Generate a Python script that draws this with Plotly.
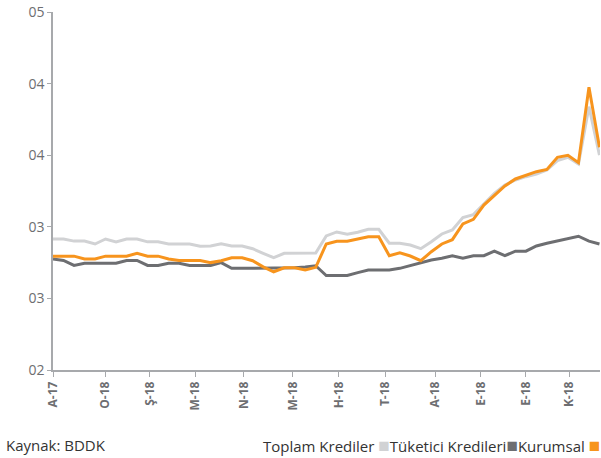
import plotly.graph_objects as go

# --------------------- Data (weekly, Dec 2017 - Dec 2018)
toplam = [2.915, 2.915, 2.90, 2.90, 2.88, 2.915, 2.895, 2.915, 2.915, 2.895,
          2.895, 2.88, 2.88, 2.88, 2.865, 2.866, 2.882, 2.866, 2.866, 2.847,
          2.815, 2.784, 2.815, 2.815, 2.817, 2.817, 2.936, 2.964, 2.948, 2.962,
          2.983, 2.983, 2.885, 2.885, 2.873, 2.847, 2.896, 2.95, 2.978, 3.065,
          3.085, 3.162, 3.234, 3.292, 3.327, 3.35, 3.369, 3.397, 3.462, 3.485,
          3.439, 3.839, 3.501]

kurumsal = [2.795, 2.795, 2.795, 2.775, 2.775, 2.795, 2.795, 2.795, 2.815, 2.795,
            2.795, 2.775, 2.765, 2.765, 2.765, 2.75, 2.763, 2.784, 2.784, 2.763,
            2.72, 2.686, 2.714, 2.714, 2.698, 2.717, 2.88, 2.899, 2.899, 2.915,
            2.931, 2.931, 2.798, 2.819, 2.796, 2.763, 2.826, 2.88, 2.91, 3.02,
            3.052, 3.152, 3.222, 3.285, 3.334, 3.362, 3.385, 3.401, 3.485, 3.499,
            3.448, 3.974, 3.555]

tuketici = [2.775, 2.765, 2.73, 2.745, 2.745, 2.745, 2.745, 2.765, 2.765, 2.73,
            2.73, 2.745, 2.745, 2.73, 2.73, 2.73, 2.75, 2.71, 2.71, 2.71,
            2.71, 2.71, 2.714, 2.714, 2.72, 2.728, 2.66, 2.66, 2.66, 2.68,
            2.698, 2.698, 2.698, 2.71, 2.73, 2.75, 2.768, 2.78, 2.798, 2.78,
            2.798, 2.798, 2.83, 2.798, 2.83, 2.83, 2.866, 2.885, 2.90, 2.915,
            2.934, 2.90, 2.88]

# Month labels and where they sit along the weekly index
month_labels = ['A-17', 'O-18', 'Ş-18', 'M-18', 'N-18', 'M-18',
                'H-18', 'T-18', 'A-18', 'E-18', 'E-18', 'K-18']
month_pos = [0.05, 5.0, 9.2, 13.55, 18.15, 22.8, 27.2, 31.6, 36.4, 40.7, 45.0, 49.1]

y_vals = [2.0, 2.5, 3.0, 3.5, 4.0, 4.5]
y_text = ['02', '03', '03', '04', '04', '05']

x_idx = list(range(len(toplam)))

LIGHT = '#d1d2d4'
DARK = '#6d6e71'
ORANGE = '#f7941d'
AXIS = '#a7a9ac'
TEXT = '#6d6e71'

fig = go.Figure()

# light, dark, then orange on top
fig.add_trace(go.Scatter(x=x_idx, y=toplam, mode='lines', name='Toplam Krediler',
                         line=dict(color=LIGHT, width=3)))
fig.add_trace(go.Scatter(x=x_idx, y=tuketici, mode='lines', name='Tüketici Kredileri',
                         line=dict(color=DARK, width=3)))
fig.add_trace(go.Scatter(x=x_idx, y=kurumsal, mode='lines', name='Kurumsal',
                         line=dict(color=ORANGE, width=3)))

fig.update_xaxes(range=[0, 52.05], tickvals=month_pos, ticktext=month_labels,
                 tickangle=-90, ticks='outside', ticklen=5, tickcolor=AXIS,
                 showline=True, linecolor=AXIS, linewidth=1.5, showgrid=False,
                 zeroline=False, automargin=False,
                 tickfont=dict(family='Open Sans', size=12, color=TEXT, weight='bold'))
fig.update_yaxes(range=[2.0, 4.5], tickvals=y_vals, ticktext=y_text,
                 ticks='outside', ticklen=4, tickcolor=AXIS,
                 showline=True, linecolor=AXIS, linewidth=1.5, showgrid=False,
                 zeroline=False, automargin=False,
                 tickfont=dict(family='Open Sans', size=14, color=TEXT))

# Source and legend line at the bottom
fig.add_annotation(x=0, y=0, xref='paper', yref='paper', xanchor='left', yanchor='middle',
                   xshift=-49, yshift=-75, showarrow=False,
                   text='Kaynak: BDDK', font=dict(family='Open Sans', size=15, color='#333333'))
fig.add_annotation(x=1, y=0, xref='paper', yref='paper', xanchor='right', yanchor='middle',
                   xshift=2, yshift=-75, showarrow=False,
                   text=('Toplam Krediler <span style="color:%s;font-size:19px">■</span>'
                         'Tüketici Kredileri<span style="color:%s;font-size:19px">■</span>'
                         'Kurumsal <span style="color:%s;font-size:19px">■</span>' % (LIGHT, DARK, ORANGE)),
                   font=dict(family='Open Sans', size=15, color='#333333'))

fig.update_layout(width=601, height=458, showlegend=False,
                  margin=dict(l=53, r=1, t=12, b=88),
                  plot_bgcolor='white', paper_bgcolor='white')

# page body has a default 8px margin; drop it so the figure fills the window
fig.write_html("out.html", config={'displayModeBar': False},
               post_script="document.body.style.margin='0';")
